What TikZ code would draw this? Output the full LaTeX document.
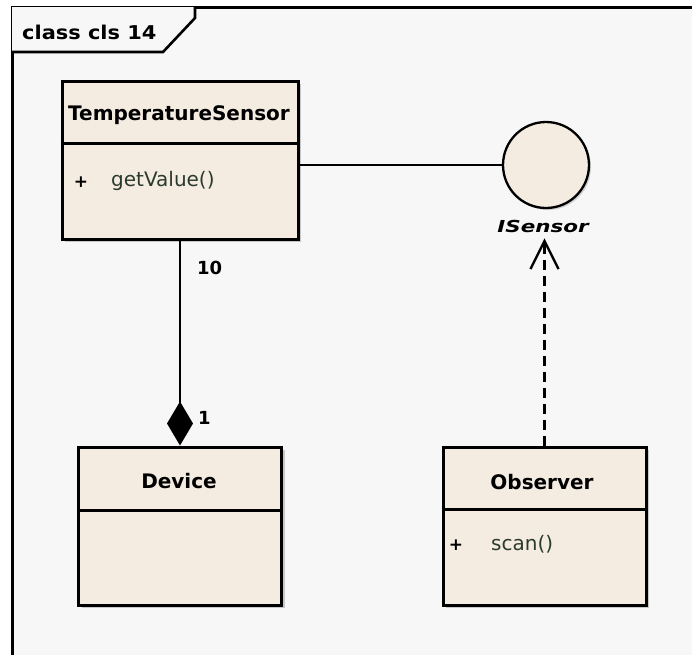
\documentclass[tikz,border=0pt]{standalone}
\usepackage{fontspec}
\setmainfont{DejaVu Sans}
\usetikzlibrary{arrows.meta,shapes.geometric,shadows}
\definecolor{bgc}{HTML}{F7F7F7}
\definecolor{boxfill}{HTML}{F4ECE1}
\definecolor{methc}{HTML}{2B3A2E}
\definecolor{shadowc}{HTML}{A8A8A8}
\tikzset{
  classbox/.style={draw=black, line width=3pt, fill=boxfill, inner sep=0pt,
     drop shadow={shadow xshift=3pt, shadow yshift=-3pt, fill=shadowc, opacity=0.6}},
  cname/.style={font=\fontsize{20}{24}\selectfont\bfseries, inner sep=0pt},
  meth/.style={font=\fontsize{20}{24}\selectfont, text=methc, inner sep=0pt, anchor=west},
  plus/.style={font=\fontsize{17}{20}\selectfont\bfseries, inner sep=0pt},
  divider/.style={line width=3pt},
  conn/.style={line width=2.3pt},
  mult/.style={font=\fontsize{18}{21}\selectfont\bfseries, inner sep=0pt, anchor=west}
}
\begin{document}
\begin{tikzpicture}[x=1pt,y=-1pt]
\useasboundingbox (0,0) rectangle (692,654);
\fill[white] (0,0) rectangle (692,654);
% frame
\fill[bgc] (12,7) rectangle (700,660);
\draw[line width=3pt] (12,662) -- (12,7) -- (700,7);
% tab
\fill[white!97!black] (12,7) -- (195,7) -- (195,18) -- (163,52) -- (12,52) -- cycle;
\draw[line width=2.6pt] (12,52) -- (163,52) -- (195,18) -- (195,7);
\node[font=\fontsize{19}{22}\selectfont\bfseries, anchor=west, inner sep=0pt] (title) at (22,32) {\scalebox{1.1}[1]{class cls 14}};

% TemperatureSensor
\node[classbox, minimum width=236pt, minimum height=158pt] (ts) at (180,160) {};
\draw[divider] (ts.west |- 0,143) -- (ts.east |- 0,143);
\node[cname] (tsname) at (179,115) {TemperatureSensor};
\node[plus] (tsplus) at (81,182) {+};
\node[meth] (tsmeth) at (111,181) {getValue()};

% Device
\node[classbox, minimum width=203pt, minimum height=158pt] (dev) at (180,526) {};
\draw[divider] (dev.west |- 0,510) -- (dev.east |- 0,510);
\node[cname] (devname) at (179,481) {Device};

% Observer
\node[classbox, minimum width=203pt, minimum height=158pt] (obs) at (544.5,526) {};
\draw[divider] (obs.west |- 0,509) -- (obs.east |- 0,509);
\node[cname] (obsname) at (542,482) {Observer};
\node[plus] (obsplus) at (456,545) {+};
\node[meth] (obsmeth) at (491,544) {scan()};

% Interface
\node[circle, draw=black, line width=2.3pt, fill=boxfill, minimum size=86pt, inner sep=0pt,
      drop shadow={shadow xshift=2pt, shadow yshift=-2pt, fill=shadowc, opacity=0.5}] (isensor) at (546,165) {};
\node[font=\fontsize{16.5}{19}\selectfont\bfseries\itshape, inner sep=0pt] (islabel) at (543,226) {\scalebox{1.3}[1]{ISensor}};

% connectors
\draw[conn] (ts.east |- isensor.west) -- (isensor.west);
\draw[conn, -{Diamond[length=44pt, width=26pt, fill=black]}] (ts.south) -- (dev.north);
\draw[conn, dash pattern=on 10pt off 6pt, -{Straight Barb[length=28pt, width=28pt, line width=2.3pt]}]
   (obs.north) -- ([yshift=-6pt]obs.north |- islabel.south);
\node[mult] (m10) at (197,268) {10};
\node[mult] (m1) at (198,418) {1};
\end{tikzpicture}
\end{document}
